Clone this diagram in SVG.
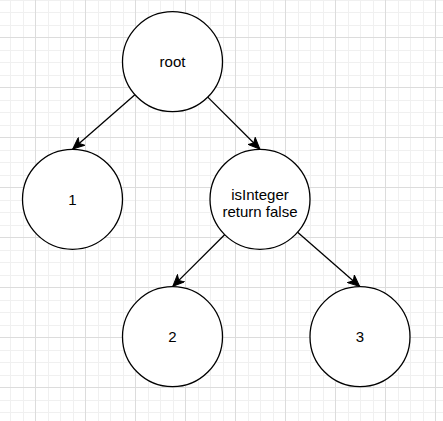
<svg xmlns="http://www.w3.org/2000/svg" width="443" height="421" viewBox="0 0 443 421">
<style>
.node circle{fill:#fff;stroke:#000;stroke-width:1.3}
.node text{font-family:"Liberation Sans",Arial,sans-serif;font-size:15px;fill:#000;text-anchor:middle}
.edge{stroke:#000;stroke-width:1.3;fill:none;marker-end:url(#arr)}
.minor{stroke:#f0f0f0;stroke-width:1;shape-rendering:crispEdges}
.major{stroke:#dcdcdc;stroke-width:1;shape-rendering:crispEdges}
</style>
<defs>
<pattern id="grid" width="50" height="50" patternUnits="userSpaceOnUse" x="35" y="37">
<path class="minor" d="M13,0V50M25.5,0V50M38,0V50M0,13H50M0,25.5H50M0,38H50"/>
<path class="major" d="M0.5,0V50M0,0.5H50"/>
</pattern>
<marker id="arr" markerUnits="userSpaceOnUse" markerWidth="13" markerHeight="11" refX="12" refY="5.5" orient="auto" viewBox="0 0 13 11">
<path d="M12,5.5 L0.5,0.5 L3.5,5.5 L0.5,10.5 Z" fill="#000" stroke="#000" stroke-width="1"/>
</marker>
</defs>
<rect width="443" height="421" fill="#fff"/>
<rect width="443" height="421" fill="url(#grid)"/>
<g id="connectors">
<line class="edge" x1="134.9" y1="94.7" x2="72.8" y2="149"/>
<line class="edge" x1="207.8" y1="97.1" x2="259.8" y2="149"/>
<line class="edge" x1="224.6" y1="234.7" x2="172.8" y2="286.4"/>
<line class="edge" x1="297.6" y1="232.2" x2="359.7" y2="286.4"/>
</g>
<g id="node-root" class="node">
<circle cx="172.5" cy="61.7" r="50"/>
<text x="172.5" y="67">root</text>
</g>
<g id="node-1" class="node">
<circle cx="72.5" cy="199.3" r="50"/>
<text x="72.5" y="204.6">1</text>
</g>
<g id="node-isInteger" class="node">
<circle cx="260" cy="199.3" r="50"/>
<text x="260" y="199.8">isInteger</text>
<text x="260" y="217">return false</text>
</g>
<g id="node-2" class="node">
<circle cx="172.5" cy="336.7" r="50"/>
<text x="172.5" y="342">2</text>
</g>
<g id="node-3" class="node">
<circle cx="360" cy="336.7" r="50"/>
<text x="360" y="342">3</text>
</g>
</svg>
